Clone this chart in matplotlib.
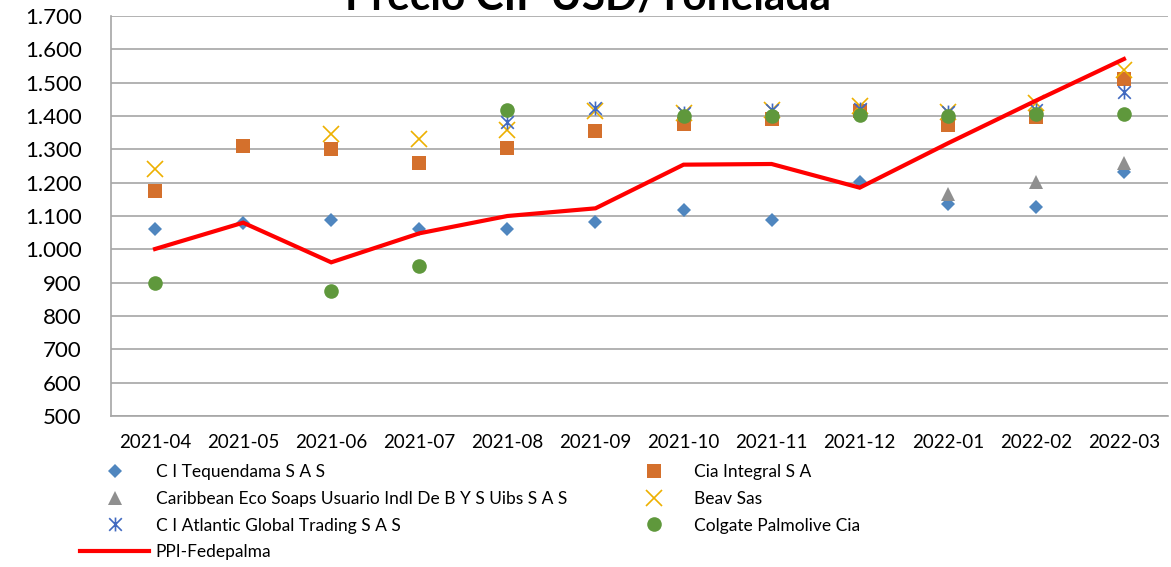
import numpy as np
import matplotlib
matplotlib.use("Agg")
import matplotlib.pyplot as plt
from matplotlib.path import Path

plt.rcParams['font.family'] = ['Lato', 'DejaVu Sans']

months = ["2021-04", "2021-05", "2021-06", "2021-07", "2021-08", "2021-09",
          "2021-10", "2021-11", "2021-12", "2022-01", "2022-02", "2022-03"]
nan = np.nan
tequendama = [1060, 1078, 1089, 1060, 1060, 1081, 1117, 1087, 1201, 1135, 1126, 1232]
cia_integral = [1175, 1310, 1301, 1260, 1304, 1355, 1376, 1390, 1414, 1372, 1396, 1511]
caribbean = [nan, nan, nan, nan, nan, nan, nan, nan, nan, 1165, 1201, 1260]
beav = [1241, nan, 1345, 1332, 1358, 1415, 1410, 1418, 1430, 1412, 1439, 1538]
atlantic = [nan, nan, nan, nan, 1382, 1424, 1408, 1418, 1420, 1411, 1418, 1472]
colgate = [900, nan, 875, 949, 1418, nan, 1401, 1401, 1403, 1401, 1406, 1406]
ppi = [1001, 1080, 961, 1048, 1100, 1123, 1254, 1256, 1185, 1318, 1446, 1571]
yticks = list(range(500, 1701, 100))
ytick_labels = [f"{v:,}".replace(",", ".") for v in yticks]

star = Path([(-1, -1), (1, 1), (-1, 1), (1, -1), (0, -1.1), (0, 1.1)],
            [Path.MOVETO, Path.LINETO, Path.MOVETO, Path.LINETO, Path.MOVETO, Path.LINETO])

fig = plt.figure(figsize=(11.71, 5.67), dpi=100)
ax = fig.add_axes([111/1171, 1-416/567, (1168-111)/1171, 400/567])
x = np.arange(len(months))

h_teq, = ax.plot(x, tequendama, linestyle='none', marker='D', markersize=7.6,
                 color='#4F86BF', markeredgewidth=0, label='C I Tequendama S A S')
h_cia, = ax.plot(x, cia_integral, linestyle='none', marker='s', markersize=10,
                 color='#D4702C', markeredgewidth=0, label='Cia Integral S A')
h_car, = ax.plot(x, caribbean, linestyle='none', marker='^', markersize=10.5,
                 color='#8F8F8F', markeredgewidth=0,
                 label='Caribbean Eco Soaps Usuario Indl De B Y S Uibs S A S')
h_bea, = ax.plot(x, beav, linestyle='none', marker='x', markersize=11,
                 color='#EDB000', markeredgewidth=1.2, label='Beav Sas')
h_atl, = ax.plot(x, atlantic, linestyle='none', marker=star, markersize=10,
                 color='#4169C0', markeredgewidth=1.2, markerfacecolor='none',
                 label='C I Atlantic Global Trading S A S')
h_col, = ax.plot(x, colgate, linestyle='none', marker='o', markersize=10.5,
                 color='#5F983C', markeredgewidth=0, label='Colgate Palmolive Cia')
h_ppi, = ax.plot(x, ppi, color='#FF0000', linewidth=3, label='PPI-Fedepalma',
                 solid_joinstyle='miter')

ax.set_xlim(-0.5, len(months) - 0.5)
ax.set_ylim(500, 1700)
ax.set_yticks(yticks)
ax.set_yticklabels(ytick_labels, fontsize=16)
ax.set_xticks(x)
ax.set_xticklabels(months, fontsize=13.5)
ax.tick_params(axis='both', length=0)
ax.tick_params(axis='y', pad=21)
ax.tick_params(axis='x', pad=13)
ax.grid(axis='y', color='#A6A6A6', linewidth=1.2)
ax.set_axisbelow(True)
for s in ['top', 'right']:
    ax.spines[s].set_visible(False)
for s in ['left', 'bottom']:
    ax.spines[s].set_color('#A6A6A6')
    ax.spines[s].set_linewidth(1.2)

fig.text(588/1171, 1-9/567, "Precio CIF USD/Tonelada", fontsize=30.5, fontweight='bold',
         ha='center', va='baseline')

handles = [h_teq, h_car, h_atl, h_ppi, h_cia, h_bea, h_col]
fig.legend(handles=handles, labels=[h.get_label() for h in handles], ncol=2,
           loc='upper left', bbox_to_anchor=(80/1171, 1-464/567), frameon=False,
           fontsize=12.5, handlelength=4.0, handletextpad=0.35, columnspacing=3.0,
           labelspacing=0.62, borderpad=0, borderaxespad=0)

fig.savefig("out.png", dpi=100)
